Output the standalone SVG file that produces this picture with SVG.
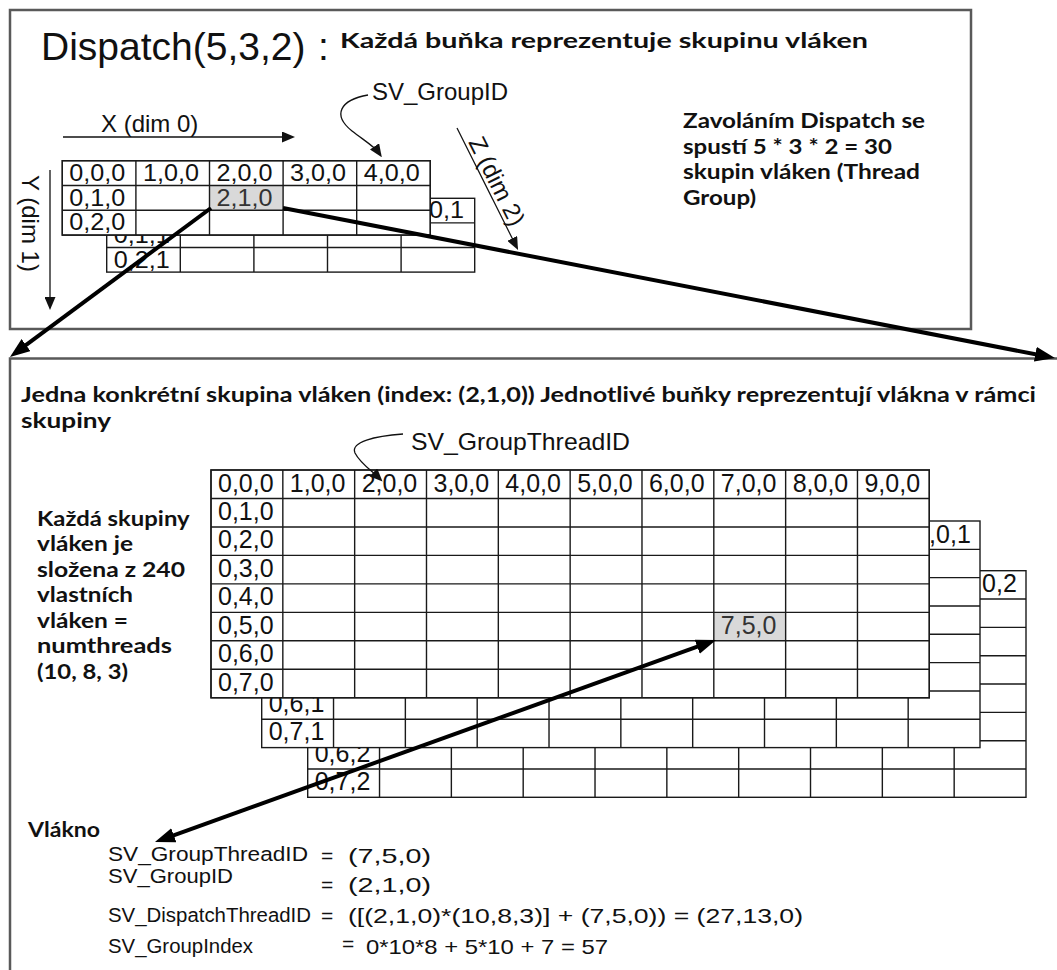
<svg xmlns="http://www.w3.org/2000/svg" width="1057" height="970" viewBox="0 0 1057 970">
<style>
.box{fill:#fff;stroke:#595959;stroke-width:2.5}
.lay{fill:#fff;stroke:#1a1a1a;stroke-width:1.4}
.gl{fill:none;stroke:#1a1a1a;stroke-width:1.4}
.hl{fill:#d9d9d9;stroke:none}
.ar{font-family:"Liberation Sans",Arial,sans-serif;fill:#111}
.cal{font-family:Lato,"Open Sans",sans-serif;font-weight:bold;fill:#111}
.ct{font-size:25px}
.cs{font-size:24px}
.thin{fill:none;stroke:#111;stroke-width:1.3}
.thick{fill:none;stroke:#000;stroke-width:4}
</style>
<defs>
<marker id="ah" markerUnits="userSpaceOnUse" markerWidth="13" markerHeight="11" refX="8" refY="5.5" orient="auto">
<path d="M0,0 L13,5.5 L0,11 z" fill="#111"/>
</marker>
<marker id="AH" markerUnits="userSpaceOnUse" markerWidth="20" markerHeight="15" refX="12" refY="7.5" orient="auto-start-reverse">
<path d="M0,0 L20,7.5 L0,15 z" fill="#000"/>
</marker>
</defs>

<g id="top-panel">
<rect class="box" x="10" y="10" width="961" height="319"/>
<text class="ar" x="41" y="60" font-size="39">Dispatch(5,3,2) <tspan x="318">:</tspan></text>
<text class="cal" x="340" y="48" font-size="21" textLength="528" lengthAdjust="spacingAndGlyphs">Každá buňka reprezentuje skupinu vláken</text>
<text class="ar" x="101" y="132" font-size="24">X (dim 0)</text>
<text class="ar" font-size="24" transform="translate(22,175) rotate(90)">Y (dim 1)</text>
<text class="ar" font-size="24" transform="translate(468,142) rotate(63.4)">Z (dim 2)</text>
<text class="ar" x="372" y="100" font-size="24">SV_GroupID</text>
<text class="cal" font-size="21">
<tspan x="683" y="128" textLength="242" lengthAdjust="spacingAndGlyphs">Zavoláním Dispatch se</tspan>
<tspan x="683" y="153.5" textLength="209" lengthAdjust="spacingAndGlyphs">spustí 5 * 3 * 2 = 30</tspan>
<tspan x="683" y="179" textLength="237" lengthAdjust="spacingAndGlyphs">skupin vláken (Thread</tspan>
<tspan x="683" y="204.5" textLength="73" lengthAdjust="spacingAndGlyphs">Group)</tspan>
</text>
</g>

<g id="top-grid-z1">
<rect class="lay" x="106.7" y="198.3" width="368" height="73.8"/>
<path class="gl" d="M106.7,222.9H474.7M106.7,247.5H474.7M180.3,198.3V272.1M253.9,198.3V272.1M327.5,198.3V272.1M401.1,198.3V272.1"/>
<text class="ar cs" x="408.1" y="218.3" textLength="56" lengthAdjust="spacingAndGlyphs">4,0,1</text>
<text class="ar cs" x="113.7" y="242.9" textLength="56" lengthAdjust="spacingAndGlyphs">0,1,1</text>
<text class="ar cs" x="113.7" y="267.5" textLength="56" lengthAdjust="spacingAndGlyphs">0,2,1</text>
</g>

<g id="top-grid-z0">
<rect class="lay" x="62.3" y="160.7" width="368" height="74.4"/>
<rect class="hl" x="209.5" y="185.5" width="73.6" height="24.8"/>
<path class="gl" d="M62.3,185.5H430.3M62.3,210.3H430.3M135.9,160.7V235.1M209.5,160.7V235.1M283.1,160.7V235.1M356.7,160.7V235.1"/>
<rect class="gl" x="62.3" y="160.7" width="368" height="74.4"/>
<g class="ar cs">
<text x="69.3" y="180.7" textLength="56" lengthAdjust="spacingAndGlyphs">0,0,0</text>
<text x="142.9" y="180.7" textLength="56" lengthAdjust="spacingAndGlyphs">1,0,0</text>
<text x="216.5" y="180.7" textLength="56" lengthAdjust="spacingAndGlyphs">2,0,0</text>
<text x="290.1" y="180.7" textLength="56" lengthAdjust="spacingAndGlyphs">3,0,0</text>
<text x="363.7" y="180.7" textLength="56" lengthAdjust="spacingAndGlyphs">4,0,0</text>
<text x="69.3" y="205.5" textLength="56" lengthAdjust="spacingAndGlyphs">0,1,0</text>
<text x="216.5" y="205.5" fill="#333" textLength="56" lengthAdjust="spacingAndGlyphs">2,1,0</text>
<text x="69.3" y="230.3" textLength="56" lengthAdjust="spacingAndGlyphs">0,2,0</text>
</g>
</g>

<g id="bottom-panel">
<rect class="box" x="10" y="358.5" width="1100" height="700"/>
<text class="cal" x="21" y="402" font-size="21.5" textLength="1015" lengthAdjust="spacingAndGlyphs">Jedna konkrétní skupina vláken (index: (2,1,0)) Jednotlivé buňky reprezentují vlákna v rámci</text>
<text class="cal" x="21" y="428" font-size="21.5" textLength="90" lengthAdjust="spacingAndGlyphs">skupiny</text>
<text class="ar" x="411" y="450" font-size="24" textLength="219" lengthAdjust="spacingAndGlyphs">SV_GroupThreadID</text>
<text class="cal" font-size="21.5">
<tspan x="37" y="525.5" textLength="152" lengthAdjust="spacingAndGlyphs">Každá skupiny</tspan>
<tspan x="37" y="551" textLength="96" lengthAdjust="spacingAndGlyphs">vláken je</tspan>
<tspan x="37" y="576.6" textLength="148" lengthAdjust="spacingAndGlyphs">složena z 240</tspan>
<tspan x="37" y="602.2" textLength="96" lengthAdjust="spacingAndGlyphs">vlastních</tspan>
<tspan x="37" y="627.7" textLength="91" lengthAdjust="spacingAndGlyphs">vláken =</tspan>
<tspan x="37" y="653.3" textLength="135" lengthAdjust="spacingAndGlyphs">numthreads</tspan>
<tspan x="37" y="678.8" textLength="91" lengthAdjust="spacingAndGlyphs">(10, 8, 3)</tspan>
</text>
<text class="cal" x="28" y="837" font-size="21.5" textLength="72" lengthAdjust="spacingAndGlyphs">Vlákno</text>
<text class="ar" x="108" y="861" font-size="20.5" textLength="200" lengthAdjust="spacingAndGlyphs">SV_GroupThreadID</text>
<text class="ar" x="321" y="863" font-size="21"><tspan>=</tspan><tspan x="348" textLength="83" lengthAdjust="spacingAndGlyphs">(7,5,0)</tspan></text>
<text class="ar" x="108" y="883" font-size="20.5" textLength="125" lengthAdjust="spacingAndGlyphs">SV_GroupID</text>
<text class="ar" x="321" y="892" font-size="21"><tspan>=</tspan><tspan x="348" textLength="83" lengthAdjust="spacingAndGlyphs">(2,1,0)</tspan></text>
<text class="ar" x="108" y="922" font-size="20" textLength="203" lengthAdjust="spacingAndGlyphs">SV_DispatchThreadID</text>
<text class="ar" x="321" y="923" font-size="21"><tspan>=</tspan><tspan x="348" textLength="455" lengthAdjust="spacingAndGlyphs">([(2,1,0)*(10,8,3)] + (7,5,0)) = (27,13,0)</tspan></text>
<text class="ar" x="108" y="953" font-size="20" textLength="145" lengthAdjust="spacingAndGlyphs">SV_GroupIndex</text>
<text class="ar" x="342" y="951" font-size="21"><tspan>=</tspan><tspan x="366" y="954" textLength="242" lengthAdjust="spacingAndGlyphs">0*10*8 + 5*10 + 7 = 57</tspan></text>
</g>

<g id="bottom-grid-z2">
<rect class="lay" x="307.7" y="570.7" width="718.3" height="226.6"/>
<path class="gl" d="M307.7,599.03H1026M307.7,627.36H1026M307.7,655.69H1026M307.7,684.02H1026M307.7,712.35H1026M307.7,740.68H1026M307.7,769.01H1026M379.53,570.7V797.3M451.36,570.7V797.3M523.19,570.7V797.3M595.02,570.7V797.3M666.85,570.7V797.3M738.68,570.7V797.3M810.51,570.7V797.3M882.34,570.7V797.3M954.17,570.7V797.3"/>
<text class="ar ct" x="961.2" y="591.7">9,0,2</text>
<text class="ar ct" x="314.7" y="761.7">0,6,2</text>
<text class="ar ct" x="314.7" y="790">0,7,2</text>
</g>

<g id="bottom-grid-z1">
<rect class="lay" x="261.7" y="521" width="718.3" height="226.6"/>
<path class="gl" d="M261.7,549.33H980M261.7,577.66H980M261.7,605.99H980M261.7,634.32H980M261.7,662.65H980M261.7,690.98H980M261.7,719.31H980M333.53,521V747.6M405.36,521V747.6M477.19,521V747.6M549.02,521V747.6M620.85,521V747.6M692.68,521V747.6M764.51,521V747.6M836.34,521V747.6M908.17,521V747.6"/>
<text class="ar ct" x="915.2" y="542.5">9,0,1</text>
<text class="ar ct" x="268.7" y="712">0,6,1</text>
<text class="ar ct" x="268.7" y="740.3">0,7,1</text>
</g>

<g id="bottom-grid-z0">
<rect class="lay" x="211" y="470" width="718.3" height="227.76"/>
<rect class="hl" x="713.81" y="612.35" width="71.83" height="28.47"/>
<path class="gl" d="M211,498.47H929.3M211,526.94H929.3M211,555.41H929.3M211,583.88H929.3M211,612.35H929.3M211,640.82H929.3M211,669.29H929.3M282.83,470V697.76M354.66,470V697.76M426.49,470V697.76M498.32,470V697.76M570.15,470V697.76M641.98,470V697.76M713.81,470V697.76M785.64,470V697.76M857.47,470V697.76"/>
<rect class="gl" x="211" y="470" width="718.3" height="227.76"/>
<g class="ar ct">
<text x="218" y="491.5">0,0,0</text>
<text x="289.83" y="491.5">1,0,0</text>
<text x="361.66" y="491.5">2,0,0</text>
<text x="433.49" y="491.5">3,0,0</text>
<text x="505.32" y="491.5">4,0,0</text>
<text x="577.15" y="491.5">5,0,0</text>
<text x="648.98" y="491.5">6,0,0</text>
<text x="720.81" y="491.5">7,0,0</text>
<text x="792.64" y="491.5">8,0,0</text>
<text x="864.47" y="491.5">9,0,0</text>
<text x="218" y="519.97">0,1,0</text>
<text x="218" y="548.44">0,2,0</text>
<text x="218" y="576.91">0,3,0</text>
<text x="218" y="605.38">0,4,0</text>
<text x="218" y="633.85">0,5,0</text>
<text x="218" y="662.32">0,6,0</text>
<text x="218" y="690.79">0,7,0</text>
<text x="720.81" y="633.85" fill="#333">7,5,0</text>
</g>
</g>

<g id="connectors">
<path class="thin" d="M63,137 H290" marker-end="url(#ah)"/>
<path class="thin" d="M50,170 V305" marker-end="url(#ah)"/>
<path class="thin" d="M457,128 L515.8,245.5" marker-end="url(#ah)"/>
<path class="thin" d="M368,95 C340,100 332,115 352,131 C365,141 375,147 379,153" marker-end="url(#ah)"/>
<path class="thin" d="M403,434 C375,436 350,442 355,453 C360,463 372,471 379,478" marker-end="url(#ah)"/>
<path class="thick" d="M211,208 L16.4,352.2" marker-end="url(#AH)"/>
<path class="thick" d="M283,208 L1047.1,356.5" marker-end="url(#AH)"/>
<path class="thick" d="M708.5,642.7 L162.5,839.3" marker-start="url(#AH)" marker-end="url(#AH)"/>
</g>
</svg>
